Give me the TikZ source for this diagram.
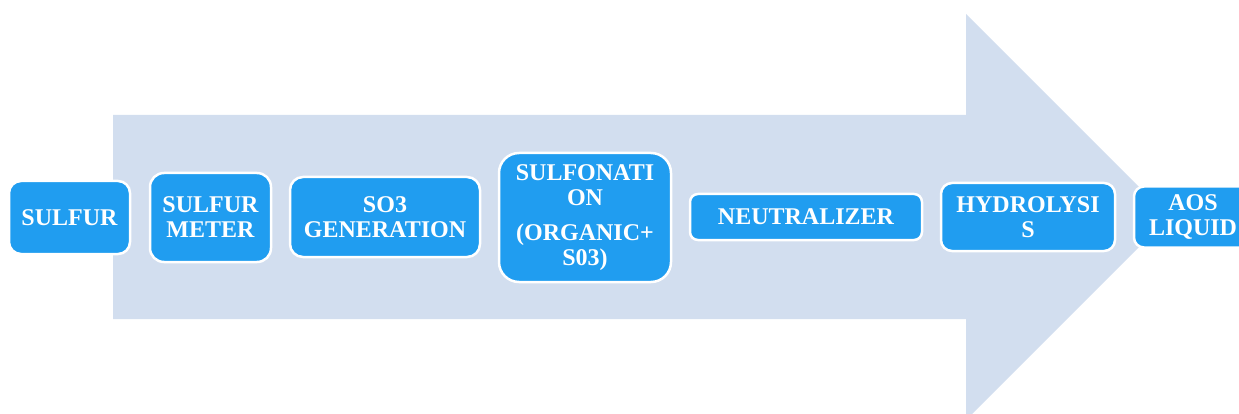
\documentclass[tikz,border=0pt]{standalone}
\usepackage{fontspec}
\setmainfont{Liberation Serif}
\usepackage{tikz}
\definecolor{stageblue}{RGB}{32,157,240}
\definecolor{flowback}{RGB}{210,222,239}

\begin{document}
\begin{tikzpicture}[x=1pt, y=-1pt,
    stagebox/.style={draw=white, line width=2.5pt, fill=stageblue, text=white,
        rounded corners=12pt, align=center, inner sep=0pt,
        font=\fontsize{24}{25}\selectfont\bfseries}]
    % Canvas
    \clip (0,0) rectangle (1239,414);

    % Drawing the big background arrow
    \fill[flowback] (113,115) -- (966,115) -- (966,14) -- (1169,217)
        -- (966,420) -- (966,319) -- (113,319) -- cycle;

    % Process stages, left to right
    \node[stagebox, minimum width=121pt, minimum height=73pt] (sulfur) at (69.5,217.5) {SULFUR};
    \node[stagebox, minimum width=121pt, minimum height=89pt, rounded corners=14pt] (meter) at (210.5,217.5) {SULFUR\\METER};
    \node[stagebox, minimum width=190pt, minimum height=80pt, rounded corners=13pt] (so3gen) at (385,217) {SO3\\GENERATION};
    \node[stagebox, minimum width=172pt, minimum height=129pt, rounded corners=20pt] (sulfonation) at (585,217.5) {SULFONATI\\ON\\[10pt](ORGANIC+\\S03)};
    \node[stagebox, minimum width=232pt, minimum height=46pt, rounded corners=8pt] (neutral) at (806,217) {NEUTRALIZER};
    \node[stagebox, minimum width=174pt, minimum height=68pt, rounded corners=11pt] (hydro) at (1028,217) {HYDROLYSI\\S};
    % last stage runs past the right edge
    \node[stagebox, minimum width=118pt, minimum height=61pt, rounded corners=10pt] (aos) at (1193,217) {AOS\\LIQUID};
\end{tikzpicture}
\end{document}
